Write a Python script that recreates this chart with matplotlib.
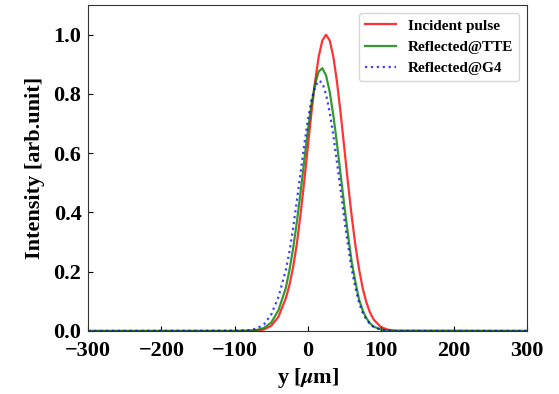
import numpy as np
import matplotlib
matplotlib.use("Agg")
import matplotlib.pyplot as plt

plt.rcParams['font.family'] = 'Liberation Serif'
plt.rcParams['font.weight'] = 'bold'
plt.rcParams['mathtext.fontset'] = 'stix'

# Posição (um) e intensidades
y_pos = [-300, -100, -80, -70, -60, -50, -40, -30, -25, -20, -15, -10, -5, 0,
         5, 10, 15, 20, 25, 30, 35, 40, 45, 50, 55, 60, 65, 70, 75, 80, 85,
         90, 100, 110, 120, 300]

incidente = [0, 0, 0.0003, 0.001, 0.005, 0.017, 0.048, 0.110, 0.155, 0.215,
             0.292, 0.390, 0.500, 0.618, 0.735, 0.841, 0.926, 0.981, 1.0,
             0.981, 0.926, 0.841, 0.735, 0.618, 0.500, 0.390, 0.292, 0.211,
             0.146, 0.098, 0.063, 0.039, 0.013, 0.004, 0.001, 0]

refl_tte = [0, 0, 0.001, 0.003, 0.010, 0.028, 0.070, 0.145, 0.205, 0.278,
            0.365, 0.464, 0.570, 0.672, 0.763, 0.833, 0.876, 0.887, 0.863,
            0.808, 0.728, 0.632, 0.527, 0.424, 0.327, 0.235, 0.168, 0.108,
            0.070, 0.044, 0.026, 0.015, 0.005, 0.001, 0, 0]

refl_g4 = [0, 0.001, 0.003, 0.008, 0.022, 0.055, 0.115, 0.205, 0.267, 0.347,
           0.437, 0.531, 0.624, 0.709, 0.778, 0.824, 0.845, 0.838, 0.799,
           0.739, 0.660, 0.569, 0.475, 0.378, 0.290, 0.210, 0.148, 0.097,
           0.062, 0.040, 0.024, 0.014, 0.004, 0.001, 0, 0]

fig = plt.figure(figsize=(5.59, 3.94), dpi=100)
ax = fig.add_axes([0.158, 0.160, 0.785, 0.827])

ax.plot(y_pos, incidente, color='red', alpha=0.8, lw=1.6, label='Incident pulse')
ax.plot(y_pos, refl_tte, color='green', alpha=0.8, lw=1.6, label='Reflected@TTE')
ax.plot(y_pos, refl_g4, color='blue', alpha=0.75, lw=1.6, ls=':', label='Reflected@G4')

ax.set_xlim(-300, 300)
ax.set_ylim(0, 1.1)
ax.set_xticks(np.arange(-300, 301, 100))
ax.set_yticks(np.arange(0, 1.01, 0.2))
ax.tick_params(direction='in', labelsize=16)
ax.tick_params(axis='y', pad=5)
ax.tick_params(axis='x', pad=7)
for lbl in ax.get_xticklabels() + ax.get_yticklabels():
    lbl.set_fontweight('bold')
for sp in ax.spines.values():
    sp.set_color('#333333')

ax.set_xlabel(r'y [$\mu$m]', fontsize=16, fontweight='bold', labelpad=4)
ax.set_ylabel('Intensity [arb.unit]', fontsize=16, fontweight='bold', labelpad=6)
ax.legend(loc='upper right', prop={'weight': 'bold', 'size': 11})

plt.savefig("out.png", dpi=100)
